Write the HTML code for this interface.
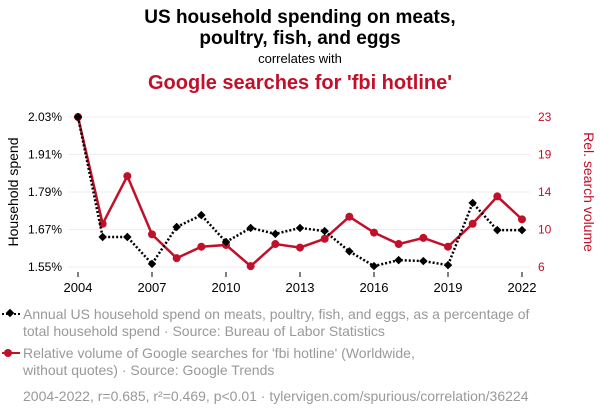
<!DOCTYPE html>
<html><head><meta charset="utf-8"><style>
body{margin:0;background:#fff;font-family:"Liberation Sans",sans-serif}
svg text{font-family:"Liberation Sans",sans-serif}
</style></head><body>
<svg id="chart" width="600" height="414" viewBox="0 0 600 414">
<text x="300" y="23" text-anchor="middle" font-size="19" font-weight="bold" fill="#000">US household spending on meats,</text>
<text x="300" y="44" text-anchor="middle" font-size="19" font-weight="bold" fill="#000">poultry, fish, and eggs</text>
<text x="300" y="63" text-anchor="middle" font-size="13" fill="#000">correlates with</text>
<text x="300" y="89" text-anchor="middle" font-size="20" font-weight="bold" fill="#c0102a">Google searches for 'fbi hotline'</text>
<g id="grid"></g><g id="axes"></g><g id="series"></g>
<text transform="translate(18,192) rotate(-90)" text-anchor="middle" font-size="14" fill="#000">Household spend</text>
<text transform="translate(584,192) rotate(90)" text-anchor="middle" font-size="14" fill="#c0102a">Rel. search volume</text>
<g>
<line x1="2" y1="314" x2="20" y2="314" stroke="#000" stroke-width="2" stroke-dasharray="2,2"/>
<rect x="7" y="310" width="6" height="6" fill="#000" transform="rotate(45 10 313)"/>
<text x="23" y="319" font-size="14" fill="#999">Annual US household spend on meats, poultry, fish, and eggs, as a percentage of</text>
<text x="23" y="336" font-size="14" fill="#999">total household spend · Source: Bureau of Labor Statistics</text></g>
<g>
<line x1="2" y1="353" x2="20" y2="353" stroke="#c0102a" stroke-width="2"/>
<circle cx="8" cy="353" r="4" fill="#c0102a"/>
<text x="23" y="358" font-size="14" fill="#999">Relative volume of Google searches for 'fbi hotline' (Worldwide,</text>
<text x="23" y="375" font-size="14" fill="#999">without quotes) · Source: Google Trends</text></g>
<text x="23" y="401" font-size="14" fill="#999">2004-2022, r=0.685, r²=0.469, p&lt;0.01 · tylervigen.com/spurious/correlation/36224</text>
</svg>
<script>
const years=[2004,2005,2006,2007,2008,2009,2010,2011,2012,2013,2014,2015,2016,2017,2018,2019,2020,2021,2022];
const spend=[2.03,1.646,1.646,1.56,1.678,1.716,1.63,1.675,1.656,1.675,1.665,1.60,1.553,1.572,1.569,1.556,1.755,1.668,1.668];
const searches=[23,10.9,16.3,9.7,7.0,8.3,8.5,6.1,8.6,8.2,9.2,11.7,9.9,8.6,9.3,8.3,10.9,14.0,11.4];
const xTicks=[2004,2007,2010,2013,2016,2019,2022];
const leftTicks=[1.55,1.67,1.79,1.91,2.03];
const leftLabels=["1.55%","1.67%","1.79%","1.91%","2.03%"];
const rightTickLabels=["6","10","14","19","23"];
const NS="http://www.w3.org/2000/svg";
const x=v=>78+(v-2004)/18*444;
const yL=v=>267-(v-1.55)/0.48*150;
const yR=v=>267-(v-6)/17*150;
function mk(t,a,p){const e=document.createElementNS(NS,t);for(const k in a)e.setAttribute(k,a[k]);p.appendChild(e);return e;}
const grid=document.getElementById('grid'),axes=document.getElementById('axes'),ser=document.getElementById('series');
leftTicks.forEach((v,i)=>{
 const g=mk('line',{x1:68,x2:530,y1:yL(v),y2:yL(v),stroke:'#eee'},grid);
 
 
 const t=mk('text',{x:62,y:yL(v)+4,'text-anchor':'end','font-size':12,fill:'#000'},axes);t.textContent=leftLabels[i];
 
 
 const r=mk('text',{x:538,y:yL(v)+4,'font-size':12,fill:'#c0102a'},axes);r.textContent=rightTickLabels[i];
 
 
});
xTicks.forEach(v=>{
 const t=mk('text',{x:x(v),y:292,'text-anchor':'middle','font-size':13,fill:'#000'},axes);t.textContent=v;
 
 
 mk('line',{x1:x(v),x2:x(v),y1:272,y2:277,stroke:'#000'},axes);
});
const rl=mk('polyline',{points:years.map((y,i)=>x(y)+','+yR(searches[i])).join(' '),fill:'none',stroke:'#c0102a','stroke-width':2.5},ser);


years.forEach((y,i)=>{const c=mk('circle',{cx:x(y),cy:yR(searches[i]),r:4,fill:'#c0102a'},ser);
 
 });
const bl=mk('polyline',{points:years.map((y,i)=>x(y)+','+yL(spend[i])).join(' '),fill:'none',stroke:'#000','stroke-width':2.5,'stroke-dasharray':'2,2'},ser);


years.forEach((y,i)=>{const cx=x(y),cy=yL(spend[i]);const r=mk('rect',{x:cx-3,y:cy-3,width:6,height:6,fill:'#000',transform:`rotate(45 ${cx} ${cy})`},ser);
 
 });
</script>
</body></html>
